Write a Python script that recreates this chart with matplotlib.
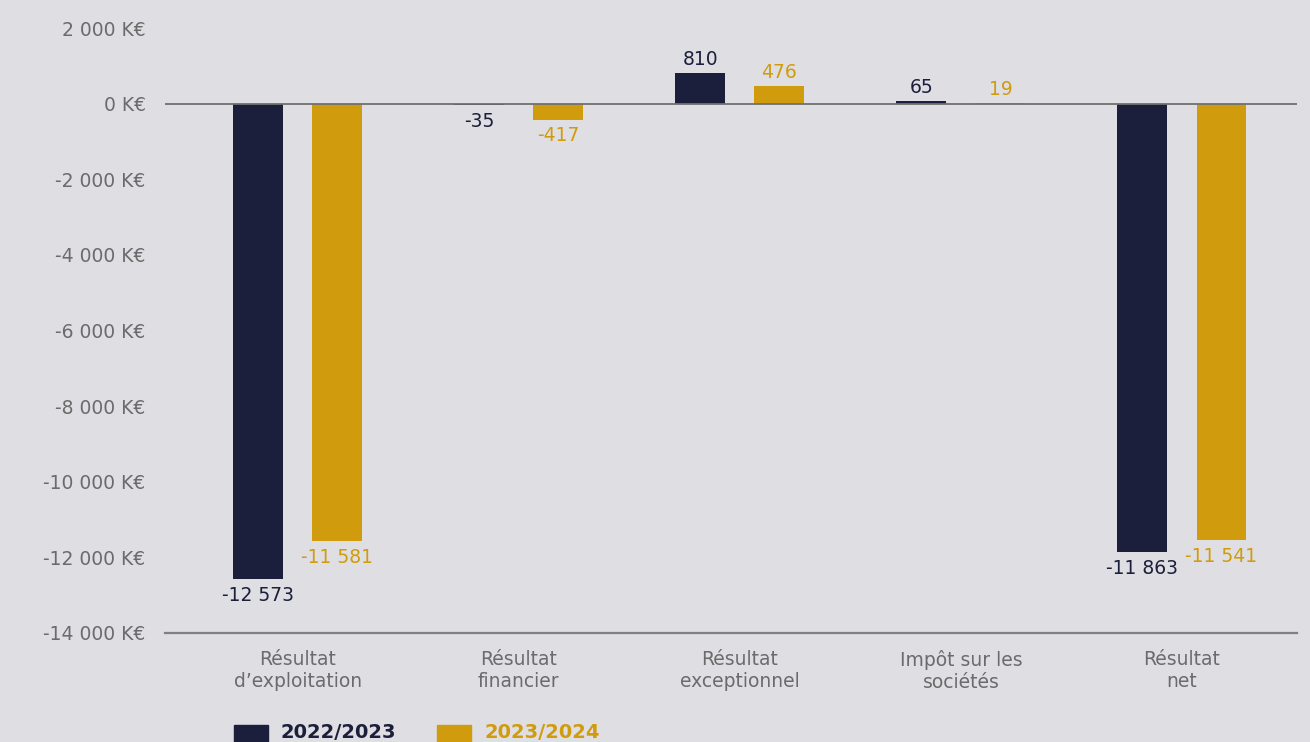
import matplotlib.pyplot as plt
from matplotlib.patches import Rectangle
import numpy as np

categories = ["Résultat\nd’exploitation", "Résultat\nfinancier", "Résultat\nexceptionnel",
              "Impôt sur les\nsociétés", "Résultat\nnet"]
series_names = ["2022/2023", "2023/2024"]
values_2223 = [-12573, -35, 810, 65, -11863]
values_2324 = [-11581, -417, 476, 19, -11541]
yticks = [2000, 0, -2000, -4000, -6000, -8000, -10000, -12000, -14000]
ytick_labels = ["2 000 K€", "0 K€", "-2 000 K€", "-4 000 K€", "-6 000 K€",
                "-8 000 K€", "-10 000 K€", "-12 000 K€", "-14 000 K€"]

navy = "#1b1f3b"
gold = "#d09c0d"
bg = "#dfdee3"
grey = "#6b6b6b"

plt.rcParams['font.family'] = ['DejaVu Sans']

fig = plt.figure(figsize=(13.1, 7.42), dpi=100, facecolor=bg)
ax = fig.add_axes([0.126, 0.147, 0.864, 0.815], facecolor=bg)

x = np.arange(len(categories))
w = 0.226
off = 0.179
b1 = ax.bar(x - off, values_2223, w, color=navy, zorder=2)
b2 = ax.bar(x + off, values_2324, w, color=gold, zorder=2)


def fmt(v):
    s = f"{abs(v):,}".replace(",", " ")
    return ("-" if v < 0 else "") + s


for bars, vals, col in [(b1, values_2223, navy), (b2, values_2324, gold)]:
    for r, v in zip(bars, vals):
        cx = r.get_x() + r.get_width() / 2
        if v >= 0:
            ax.annotate(fmt(v), (cx, v), xytext=(0, 3), textcoords="offset points",
                        ha="center", va="bottom", color=col, fontsize=13.5)
        else:
            ax.annotate(fmt(v), (cx, v), xytext=(0, -5), textcoords="offset points",
                        ha="center", va="top", color=col, fontsize=13.5)

ax.axhline(0, color="#707070", lw=1.3, zorder=3)
ax.set_ylim(-14000, 2000)
ax.set_xlim(-0.6, 4.52)
ax.set_yticks(yticks)
ax.set_yticklabels(ytick_labels)
ax.set_xticks(x)
ax.set_xticklabels(categories)
ax.tick_params(axis="y", length=0, pad=14, labelcolor=grey, labelsize=13.5)
ax.tick_params(axis="x", length=0, pad=12, labelcolor=grey, labelsize=13.5)
for s in ["top", "right", "left"]:
    ax.spines[s].set_visible(False)
ax.spines["bottom"].set_color("#808080")
ax.spines["bottom"].set_linewidth(1.6)

# legend at the bottom
fig.patches.append(Rectangle((234 / 1310, 0), 34 / 1310, 17 / 742, transform=fig.transFigure,
                             color=navy))
fig.patches.append(Rectangle((437 / 1310, 0), 34 / 1310, 17 / 742, transform=fig.transFigure,
                             color=gold))
fig.text(281 / 1310, 10 / 742, series_names[0], color=navy, fontsize=14, fontweight="bold",
         ha="left", va="center")
fig.text(484 / 1310, 10 / 742, series_names[1], color=gold, fontsize=14, fontweight="bold",
         ha="left", va="center")

fig.savefig("out.png", dpi=100, facecolor=bg)
